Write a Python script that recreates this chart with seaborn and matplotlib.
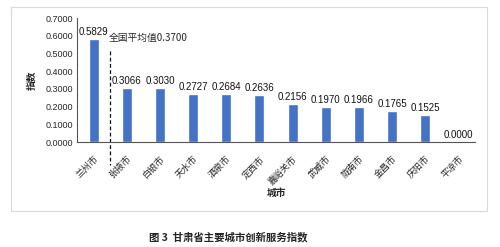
import matplotlib
matplotlib.use("Agg")
import matplotlib.pyplot as plt
import seaborn as sns
import pandas as pd
import numpy as np
from matplotlib.patches import Rectangle

cities = ["兰州市", "张掖市", "白银市", "天水市", "酒泉市", "定西市", "嘉峪关市",
          "武威市", "陇南市", "金昌市", "庆阳市", "平凉市"]
values = [0.5829, 0.3066, 0.3030, 0.2727, 0.2684, 0.2636, 0.2156,
          0.1970, 0.1966, 0.1765, 0.1525, 0.0000]
yticks = [0.0, 0.1, 0.2, 0.3, 0.4, 0.5, 0.6, 0.7]
avg_label = "全国平均值0.3700"
caption = "图 3  甘肃省主要城市创新服务指数"

sns.set_theme(style="white")
plt.rcParams['font.family'] = ['Liberation Sans', 'Noto Sans CJK SC', 'DejaVu Sans']
cjk = ['Noto Sans CJK SC', 'DejaVu Sans']

df = pd.DataFrame({"city": cities, "value": values})

fig = plt.figure(figsize=(5.0, 2.47), dpi=100)
fig.patches.append(Rectangle((11/500, 1-211/247), 476/500, 204/247, transform=fig.transFigure,
                             fill=False, edgecolor="#d9d9d9", linewidth=0.8))
ax = fig.add_axes([77/500, 1-142/247, 398/500, 124/247])

sns.barplot(data=df, x="city", y="value", color="#4472C4", saturation=1, width=0.3, ax=ax)

ax.set_ylim(0, 0.7)
ax.set_xlim(-0.5, len(cities)-0.5)
ax.set_yticks(yticks)
ax.set_yticklabels([f"{v:.4f}" for v in yticks], fontsize=6.5)
ax.set_xticks(range(len(cities)))
ax.set_xticklabels(cities, rotation=45, ha="right", rotation_mode="anchor", fontsize=6.5, family=cjk)
ax.tick_params(axis="x", length=0, pad=9)
ax.tick_params(axis="y", length=0, pad=3)
ax.set_xticks(np.arange(-0.5, len(cities), 1), minor=True)
ax.tick_params(axis="x", which="minor", length=2.5, width=0.6, color="#555555")

for s in ["top", "right"]:
    ax.spines[s].set_visible(False)
for s in ["left", "bottom"]:
    ax.spines[s].set_color("#555555")
    ax.spines[s].set_linewidth(0.8)

for i, v in enumerate(values):
    ax.text(i, v + 0.012, f"{v:.4f}", ha="center", va="bottom", fontsize=7, color="#111111")

ax.set_xlabel("城市", fontsize=7, fontweight="bold", family=cjk, labelpad=1)
ax.set_ylabel("指数", fontsize=7, fontweight="bold", family=cjk, labelpad=6)

ax.plot([0.5, 0.5], [0.515, -0.13], linestyle=(0, (3, 2)), color="#111111", linewidth=0.9, clip_on=False)
ax.text(0.47, 0.585, avg_label, ha="left", va="center", fontsize=7, family=cjk)

fig.text(228/500, 1-237/247, caption, ha="center", va="center", fontsize=7.5, fontweight="bold", family=cjk)

fig.savefig("out.png", dpi=100)
